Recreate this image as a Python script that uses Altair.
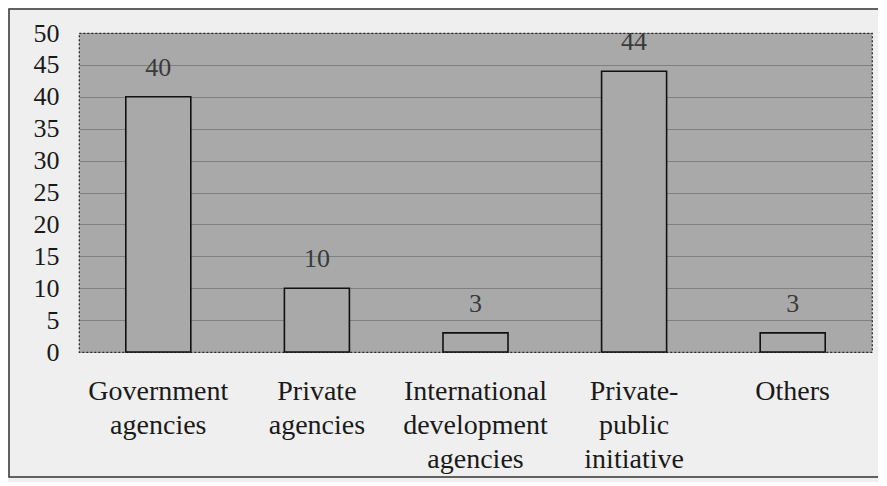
import altair as alt
import pandas as pd

categories = ["Government agencies", "Private agencies", "International development agencies",
              "Private-public initiative", "Others"]
label_lines = [["Government", "agencies"], ["Private", "agencies"],
               ["International", "development", "agencies"],
               ["Private-", "public", "initiative"], ["Others"]]
values = [40, 10, 3, 44, 3]
y_ticks = [0, 5, 10, 15, 20, 25, 30, 35, 40, 45, 50]

df = pd.DataFrame({"cat": categories, "value": values})

label_expr = "{" + ",".join(
    f'"{c}": [{",".join(chr(34) + l + chr(34) for l in ls)}]' for c, ls in zip(categories, label_lines)
) + "}[datum.value]"

FONT = "Liberation Serif"
HATCH = "#a9a9a9"

x = alt.X("cat:N", sort=categories, title=None,
          scale=alt.Scale(paddingInner=0.59, paddingOuter=0.295),
          axis=alt.Axis(labelExpr=label_expr, labelAngle=0, labelFont=FONT, labelFontSize=28,
                        labelColor="#1a1a1a", labelPadding=25, labelLineHeight=34,
                        ticks=False, domain=False, labelBaseline="top", labelOverlap=False))
y = alt.Y("value:Q", title=None,
          scale=alt.Scale(domain=[0, 50], nice=False),
          axis=alt.Axis(values=y_ticks, labelFont=FONT, labelFontSize=26, labelColor="#1a1a1a",
                        labelPadding=20, ticks=False, domain=False, grid=True, labelOverlap=False,
                        labelBound=False, gridColor="#333333", gridOpacity=0.35, gridWidth=1))

bars = alt.Chart(df).mark_bar(fill=HATCH, stroke="#111111", strokeWidth=1.6).encode(x=x, y=y)

text = alt.Chart(df).mark_text(font=FONT, fontSize=26, color="#3a3a3a", baseline="bottom", dy=-16).encode(
    x=x, y=y, text="value:Q")

frame = alt.Chart(pd.DataFrame({"a": [0]})).mark_rect(
    fill=None, stroke="#333333", strokeWidth=1.5, clip=False).encode(
    x=alt.value(-70), x2=alt.value(806), y=alt.value(-24), y2=alt.value(444))

chart = alt.layer(frame, bars, text).properties(
    width=793, height=319,
    padding={"left": 71, "top": 25, "right": 6, "bottom": 130},
    autosize=alt.AutoSizeParams(type="none"),
    background="#efefef",
).configure_view(
    fill=HATCH, stroke="#222222", strokeDash=[2, 2], strokeWidth=1.2
).configure_axis(labelOverlap=False)

chart.save("out.html", embed_options={"renderer": "svg", "actions": False})
